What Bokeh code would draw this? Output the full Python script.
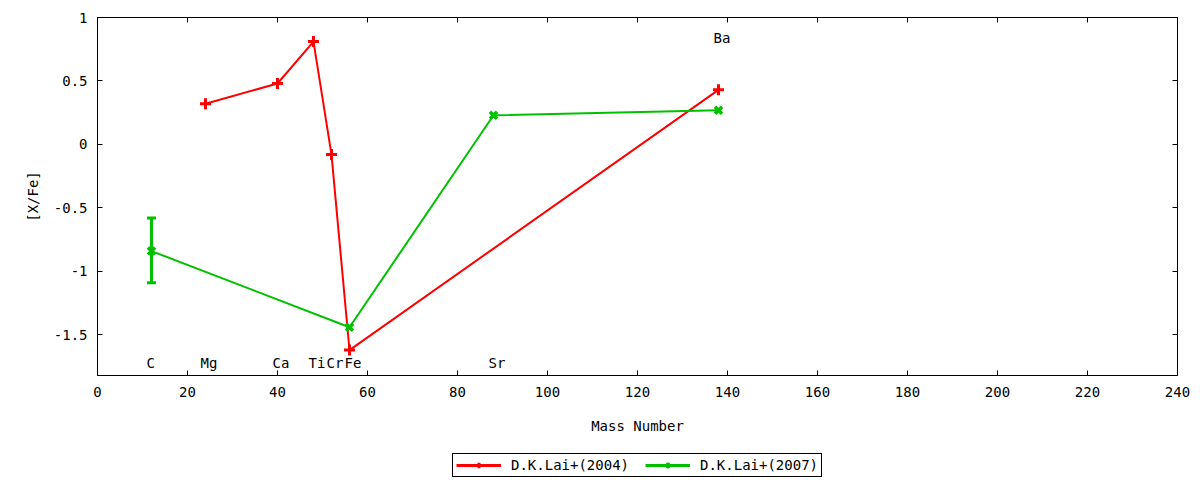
from bokeh.plotting import figure
from bokeh.layouts import column
from bokeh.models import (ColumnDataSource, FixedTicker, LinearAxis, Range1d, Legend, LegendItem,
                          Whisker, TeeHead, CustomJSTickFormatter, LabelSet)
from bokeh.embed import file_html
from bokeh.resources import INLINE
from bokeh.core.properties import value

FONT = "DejaVu Sans Mono"
FS = "14px"

# D.K.Lai+(2004)
lai2004_mass = [24, 40, 48, 52, 56, 138]
lai2004_xfe = [0.32, 0.48, 0.81, -0.08, -1.62, 0.43]

# D.K.Lai+(2007)
lai2007_mass = [12, 56, 88, 138]
lai2007_xfe = [-0.84, -1.44, 0.23, 0.27]
lai2007_lower = [-1.09, -1.44, 0.23, 0.27]
lai2007_upper = [-0.58, -1.44, 0.23, 0.27]

# element labels
elem_names = ["C", "Mg", "Ca", "Ti", "Cr", "Fe", "Sr", "Ba"]
elem_mass = [12, 24, 40, 48, 52, 56, 88, 138]
elem_y = [-1.72, -1.72, -1.72, -1.72, -1.72, -1.72, -1.72, 0.84]

x_ticks = [0, 20, 40, 60, 80, 100, 120, 140, 160, 180, 200, 220, 240]
y_ticks = [-1.5, -1, -0.5, 0, 0.5, 1]

RED = "#ff0000"
GREEN = "#00c000"

p = figure(width=1200, height=445, output_backend="svg", toolbar_location=None,
           x_range=Range1d(0, 240), y_range=Range1d(-1.82, 1),
           min_border_left=97, min_border_right=23, min_border_top=17, min_border_bottom=70)
p.grid.visible = False
p.outline_line_color = "black"
p.outline_line_width = 1
p.background_fill_color = "white"
p.border_fill_color = "white"

fmt = CustomJSTickFormatter(code="return tick.toString();")

for ax in (p.xaxis[0], p.yaxis[0]):
    ax.major_tick_in = 5
    ax.major_tick_out = 0
    ax.minor_tick_line_color = None
    ax.axis_line_color = "black"
    ax.major_tick_line_color = "black"
    ax.major_label_text_font = FONT
    ax.major_label_text_font_size = FS
    ax.major_label_text_color = "black"
    ax.axis_label_text_font = FONT
    ax.axis_label_text_font_size = FS
    ax.axis_label_text_font_style = "normal"
    ax.axis_label_text_color = "black"
    ax.formatter = fmt

p.xaxis[0].ticker = FixedTicker(ticks=x_ticks)
p.yaxis[0].ticker = FixedTicker(ticks=y_ticks)
p.xaxis[0].axis_label = "Mass Number"
p.yaxis[0].axis_label = "[X/Fe]"
p.xaxis[0].major_label_standoff = 11
p.xaxis[0].axis_label_standoff = 18
p.yaxis[0].major_label_standoff = 10
p.yaxis[0].axis_label_standoff = 10

blank = CustomJSTickFormatter(code="return '';")
for loc, tk in (("above", x_ticks), ("right", y_ticks)):
    ax = LinearAxis(ticker=FixedTicker(ticks=tk), major_tick_in=5, major_tick_out=0,
                    minor_tick_line_color=None, formatter=blank,
                    major_label_standoff=0, axis_line_color="black")
    p.add_layout(ax, loc)

src04 = ColumnDataSource(dict(x=lai2004_mass, y=lai2004_xfe))
src07 = ColumnDataSource(dict(x=lai2007_mass, y=lai2007_xfe, lo=lai2007_lower, up=lai2007_upper))
idx = [i for i in range(len(lai2007_mass)) if lai2007_lower[i] != lai2007_upper[i]]
srcerr = ColumnDataSource(dict(x=[lai2007_mass[i] for i in idx],
                               lo=[lai2007_lower[i] for i in idx],
                               up=[lai2007_upper[i] for i in idx]))

l04 = p.line("x", "y", source=src04, line_color=RED, line_width=2)
m04 = p.scatter("x", "y", source=src04, marker="cross", size=11, line_color=RED, line_width=3)

l07 = p.line("x", "y", source=src07, line_color=GREEN, line_width=2)
w07 = Whisker(source=srcerr, base="x", lower="lo", upper="up", line_color=GREEN, line_width=3,
              upper_head=TeeHead(size=9, line_color=GREEN, line_width=3),
              lower_head=TeeHead(size=9, line_color=GREEN, line_width=3))
p.add_layout(w07)
m07 = p.scatter("x", "y", source=src07, marker="x", size=10, line_color=GREEN, line_width=3.5)

lsrc = ColumnDataSource(dict(x=elem_mass, y=elem_y, t=elem_names))
labels = LabelSet(x="x", y="y", text="t", source=lsrc, x_offset=-5,
                  text_font=value(FONT), text_font_size=value(FS), text_color="black",
                  text_align="left", text_baseline="middle")
p.add_layout(labels)

# legend strip below the chart (proxy renderers sit outside its visible range)
lf = figure(width=1200, height=35, output_backend="svg", toolbar_location=None,
            x_axis_location=None, y_axis_location=None,
            x_range=Range1d(0, 1), y_range=Range1d(0, 1),
            min_border_left=97, min_border_right=23, min_border_top=0, min_border_bottom=0)
lf.grid.visible = False
lf.outline_line_color = None
lf.border_fill_color = "white"
proxy = dict(x=[-10, -11], y=[-10, -10])
r1 = lf.line("x", "y", source=ColumnDataSource(proxy), line_color=RED, line_width=3)
r2 = lf.scatter("x", "y", source=ColumnDataSource(proxy), marker="cross", size=11, line_color=RED, line_width=3)
r3 = lf.line("x", "y", source=ColumnDataSource(proxy), line_color=GREEN, line_width=3)
r4 = lf.scatter("x", "y", source=ColumnDataSource(proxy), marker="x", size=10, line_color=GREEN, line_width=3.5)

legend = Legend(items=[LegendItem(label="D.K.Lai+(2004)", renderers=[r1, r2]),
                       LegendItem(label="D.K.Lai+(2007)", renderers=[r3, r4])],
                orientation="horizontal", location=(355, 3),
                label_text_font=FONT, label_text_font_size=FS, label_text_color="black",
                glyph_width=45, glyph_height=14, label_standoff=10, spacing=16,
                padding=3, margin=0, border_line_color="black", border_line_width=1,
                border_line_alpha=1,
                background_fill_color="white", background_fill_alpha=1,
                label_height=14)
lf.add_layout(legend, "center")

open("out.html", "w").write(file_html(column(p, lf), INLINE))
